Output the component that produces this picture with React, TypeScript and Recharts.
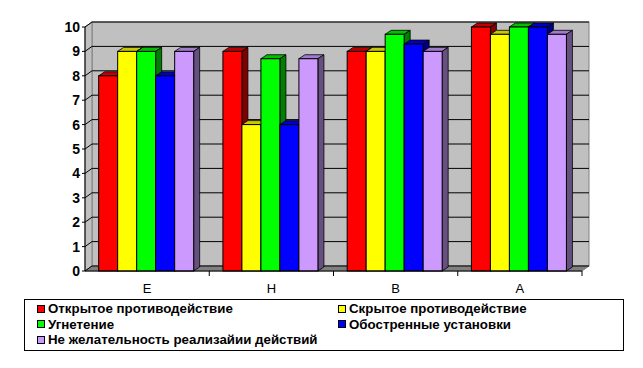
import React from "react";
import {
  BarChart,
  Bar,
  XAxis,
  YAxis,
  CartesianGrid,
  ReferenceArea
} from "recharts";

const categories = ["E", "H", "B", "A"];
const seriesNames = [
  "Открытое противодействие",
  "Скрытое противодействие",
  "Угнетение",
  "Обостренные установки",
  "Не желательность реализайии действий"
];
const openResist = [8, 9, 9, 10];
const hiddenResist = [9, 6, 9, 9.7];
const oppression = [9, 8.7, 9.7, 10];
const sharpAttitudes = [8, 6, 9.3, 10];
const undesirability = [9, 8.7, 9, 9.7];
const yTicks = [0, 1, 2, 3, 4, 5, 6, 7, 8, 9, 10];

const seriesValues = [openResist, hiddenResist, oppression, sharpAttitudes, undesirability];
const keys = ["s0", "s1", "s2", "s3", "s4"];

// front / top / side colours
const colors = [
  ["#ff0000", "#c00000", "#800000"],
  ["#ffff00", "#c8c800", "#808000"],
  ["#00ff00", "#00c000", "#008000"],
  ["#0000ff", "#0000c0", "#000080"],
  ["#cc99ff", "#a07acc", "#665080"]
];

const data = categories.map((c, i) => {
  const row: any = { name: c };
  keys.forEach((k, j) => (row[k] = seriesValues[j][i]));
  return row;
});

const DX = 6;
const DY = 4;
const WX = 7;
const WY = 5;
const FONT = "'Liberation Sans', Arial, sans-serif";

function bar3d(ci: number) {
  return (props: any) => {
    const { x, y, width, height } = props;
    if (width == null || height == null) return <g />;
    const [front, top, side] = colors[ci];
    return (
      <g>
        <polygon
          points={`${x},${y} ${x + DX},${y - DY} ${x + width + DX},${y - DY} ${x + width},${y}`}
          fill={top}
          stroke="#000"
          strokeWidth={0.8}
        />
        <polygon
          points={`${x + width},${y} ${x + width + DX},${y - DY} ${x + width + DX},${y + height - DY} ${x + width},${y + height}`}
          fill={side}
          stroke="#000"
          strokeWidth={0.8}
        />
        <rect x={x} y={y} width={width} height={height} fill={front} stroke="#000" strokeWidth={1} />
      </g>
    );
  };
}

function wallShape(props: any) {
  const { x, y, width, height } = props;
  const b = y + height;
  return (
    <g>
      <rect x={x + WX} y={y - WY} width={width} height={height} fill="#c0c0c0" stroke="#808080" />
      <polygon
        points={`${x},${y} ${x + WX},${y - WY} ${x + WX},${b - WY} ${x},${b}`}
        fill="#c0c0c0"
        stroke="#808080"
      />
      <polygon
        points={`${x},${b} ${x + WX},${b - WY} ${x + width + WX},${b - WY} ${x + width},${b}`}
        fill="#808080"
        stroke="#808080"
      />
    </g>
  );
}

function gridLine(props: any) {
  const { x1, y1, x2 } = props;
  return (
    <g key={`g-${y1}`}>
      <line x1={x1} y1={y1} x2={x1 + WX} y2={y1 - WY} stroke="#000" />
      <line x1={x1 + WX} y1={y1 - WY} x2={x2 + WX} y2={y1 - WY} stroke="#000" />
    </g>
  );
}

function XTick(props: any) {
  const { x, y, payload } = props;
  const half = payload && payload.offset ? payload.offset : 0;
  return (
    <g>
      <line x1={x + half} y1={y - 8} x2={x + half} y2={y - 3} stroke="#000" />
      <text x={x} y={y + 14} textAnchor="middle" fontFamily={FONT} fontSize={13} fill="#000">
        {payload.value}
      </text>
    </g>
  );
}

function YTick(props: any) {
  const { x, y, payload } = props;
  return (
    <text x={x} y={y} dy="0.36em" textAnchor="end" fontFamily={FONT} fontSize={14} fontWeight="bold" fill="#000">
      {payload.value}
    </text>
  );
}

export default function App() {
  return (
    <div style={{ position: "absolute", left: 0, top: 0, width: 643, height: 368, background: "#fff" }}>
      <BarChart
        width={643}
        height={368}
        data={data}
        margin={{ top: 27, right: 61, bottom: 67, left: 0 }}
        barCategoryGap="11%"
        barGap={0}
      >
        <ReferenceArea y1={0} y2={10} shape={wallShape} ifOverflow="visible" zIndex={-200} />
        <CartesianGrid horizontal={gridLine} vertical={false} />
        <XAxis
          dataKey="name"
          height={30}
          axisLine={{ stroke: "#000" }}
          tickLine={false}
          tick={<XTick />}
          interval={0}
        />
        <YAxis
          width={85}
          domain={[0, 10]}
          ticks={yTicks}
          axisLine={{ stroke: "#000" }}
          tickLine={{ stroke: "#000" }}
          tickSize={3}
          tickMargin={2}
          tick={<YTick />}
          interval={0}
        />
        {keys.map((k, i) => (
          <Bar key={k} dataKey={k} name={seriesNames[i]} fill={colors[i][0]} shape={bar3d(i)} isAnimationActive={false} />
        ))}
      </BarChart>
      <div
        style={{
          position: "absolute",
          left: 24,
          top: 299,
          width: 598,
          height: 50,
          border: "1px solid #000",
          fontFamily: FONT,
          fontSize: 13.3,
          fontWeight: "bold",
          color: "#000"
        }}
      >
        {seriesNames.map((n, i) => (
          <div
            key={n}
            style={{
              position: "absolute",
              left: i % 2 === 0 ? 12 : 313,
              top: 1 + Math.floor(i / 2) * 15.5,
              whiteSpace: "nowrap",
              display: "flex",
              alignItems: "center",
              height: 15
            }}
          >
            <span
              style={{
                display: "inline-block",
                width: 6,
                height: 6,
                border: "1px solid #000",
                background: colors[i][0],
                marginRight: 3
              }}
            />
            {n}
          </div>
        ))}
      </div>
    </div>
  );
}
